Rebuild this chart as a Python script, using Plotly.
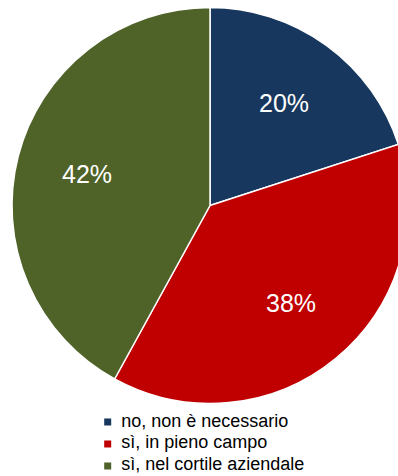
import math
import plotly.graph_objects as go

categories = ["no, non è necessario", "sì, in pieno campo", "sì, nel cortile aziendale"]
values = [20, 38, 42]
colors = ["#17375E", "#C00000", "#4F6228"]

W, H = 420, 476
cx, cy, r = 210, 205.5, 198
LABEL_R = 0.64
FONT = "Liberation Sans, Arial"

fig = go.Figure()
fig.add_trace(go.Pie(
    labels=categories,
    values=values,
    sort=False,
    direction="clockwise",
    rotation=0,
    marker=dict(colors=colors, line=dict(color="white", width=1.5)),
    textinfo="none",
    domain=dict(x=[(cx - r) / W, (cx + r) / W], y=[(H - cy - r) / H, (H - cy + r) / H]),
    showlegend=False,
    hoverinfo="label+percent",
))

# percentage labels placed along each slice's bisector (derived from the values)
total = sum(values)
cum = 0
for v in values:
    ang = 2 * math.pi * (cum + v / 2) / total
    cum += v
    px = cx + LABEL_R * r * math.sin(ang)
    py = cy - LABEL_R * r * math.cos(ang)
    fig.add_annotation(
        x=px / W, y=1 - py / H, xref="paper", yref="paper",
        text=f"{round(100 * v / total)}%", showarrow=False,
        xanchor="center", yanchor="middle",
        font=dict(family=FONT, size=25, color="white"),
    )

# legend drawn as a small scatter on hidden axes
fig.add_trace(go.Scatter(
    x=[0] * len(categories), y=categories,
    mode="markers",
    marker=dict(symbol="square", size=7, color=colors, line=dict(width=0)),
    showlegend=False, hoverinfo="skip",
))
fig.add_trace(go.Scatter(
    x=[0] * len(categories), y=categories,
    mode="markers+text", text=categories, textposition="middle right",
    marker=dict(size=20, color="rgba(0,0,0,0)", line=dict(width=0)),
    textfont=dict(family=FONT, size=18, color="#000000"),
    showlegend=False, hoverinfo="skip",
))

fig.update_layout(
    width=W, height=H,
    margin=dict(l=0, r=0, t=0, b=0),
    paper_bgcolor="white",
    plot_bgcolor="rgba(0,0,0,0)",
    xaxis=dict(domain=[0, 1], range=[-107.7, W - 107.7], visible=False, fixedrange=True),
    yaxis=dict(domain=[0, 66 / H], type="category", categoryorder="array",
               categoryarray=categories, range=[2.455, -0.545], visible=False, fixedrange=True),
)

fig.write_html(
    "out.html",
    config={"displayModeBar": False},
    post_script="document.body.style.margin='0';document.body.style.overflow='hidden';document.documentElement.style.overflow='hidden';",
)
